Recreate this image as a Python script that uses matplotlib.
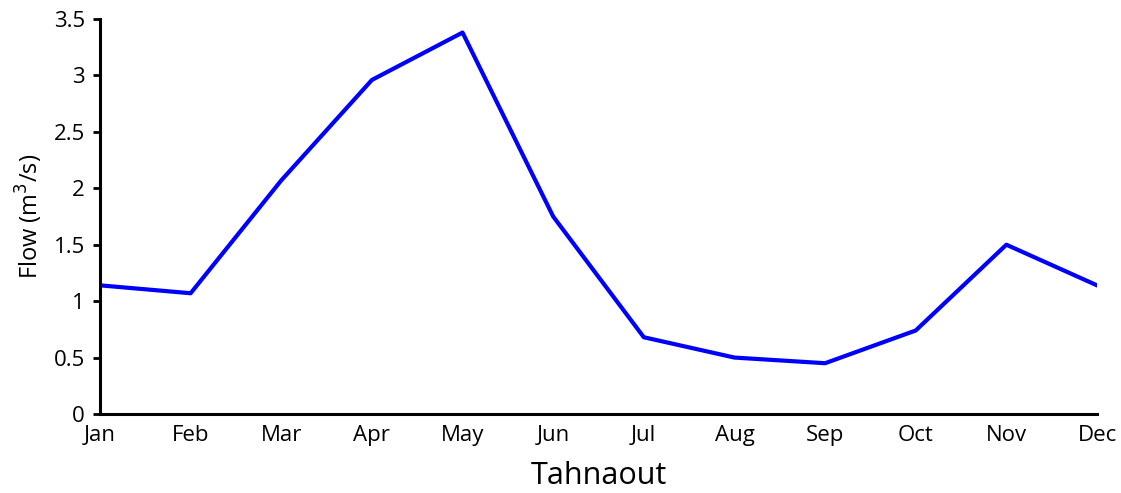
import matplotlib.pyplot as plt

plt.rcParams['font.family'] = ['Open Sans', 'DejaVu Sans']

months = ['Jan', 'Feb', 'Mar', 'Apr', 'May', 'Jun',
          'Jul', 'Aug', 'Sep', 'Oct', 'Nov', 'Dec']
flow = [1.14, 1.07, 2.07, 2.96, 3.38, 1.75, 0.68, 0.50, 0.45, 0.74, 1.50, 1.14]
y_ticks = [0, 0.5, 1, 1.5, 2, 2.5, 3, 3.5]
y_labels = ['0', '0.5', '1', '1.5', '2', '2.5', '3', '3.5']

fig = plt.figure(figsize=(11.21, 4.93), dpi=100)
ax = fig.add_axes([100 / 1121, 1 - 414 / 493, 997 / 1121, 395 / 493])

x = list(range(len(months)))
ax.plot(x, flow, color='#0000ff', lw=3)

ax.set_xlim(0, len(months) - 1)
ax.set_ylim(0, 3.5)
ax.set_xticks(x)
ax.set_xticklabels(months)
ax.set_yticks(y_ticks)
ax.set_yticklabels(y_labels)

for s in ['top', 'right']:
    ax.spines[s].set_visible(False)
for s in ['left', 'bottom']:
    ax.spines[s].set_linewidth(2.2)

ax.tick_params(axis='x', length=0, labelsize=16, pad=8)
ax.tick_params(axis='y', length=5, width=2, labelsize=16, pad=6)

ax.set_ylabel('Flow (m$^3$/s)', fontsize=17, labelpad=6)
ax.set_xlabel('Tahnaout', fontsize=22, labelpad=11)

fig.savefig('out.png', dpi=100)
